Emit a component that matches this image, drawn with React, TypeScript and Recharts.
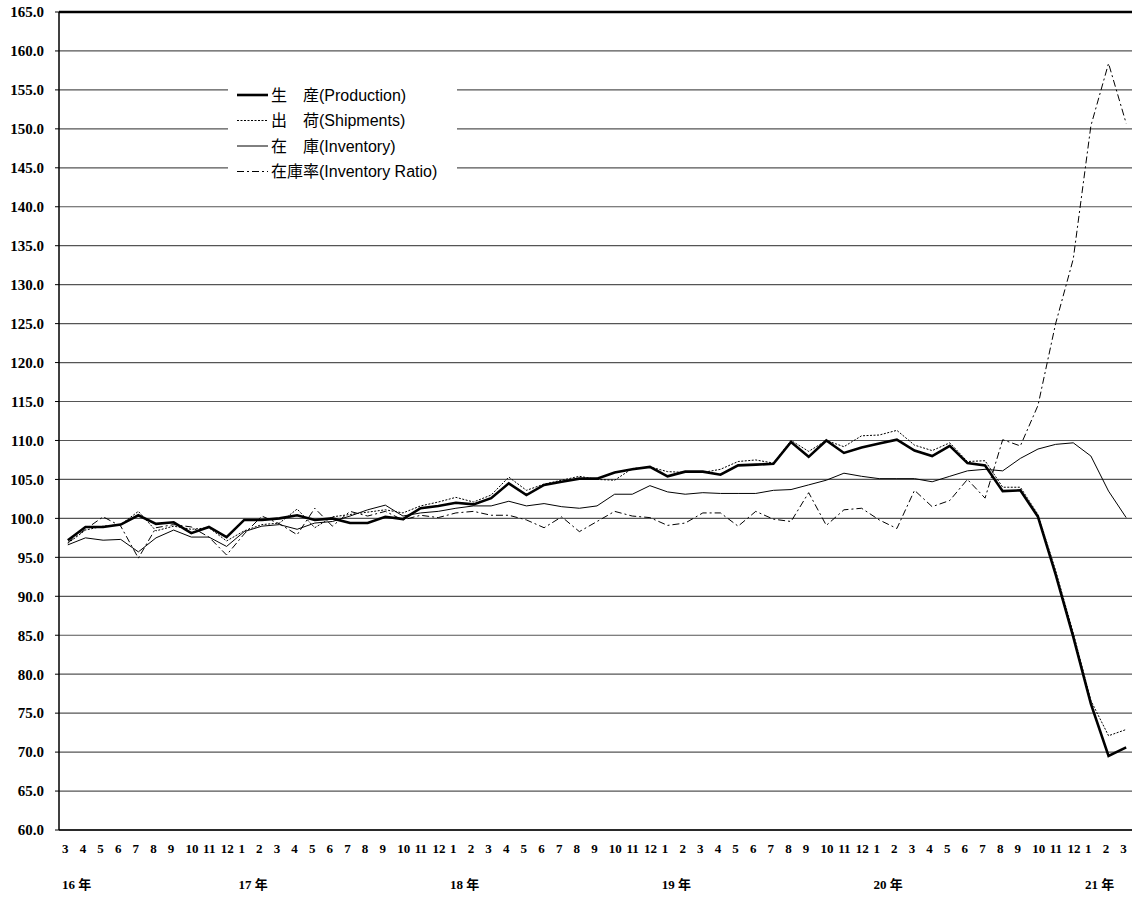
import { CartesianGrid, Legend, Line, LineChart, ReferenceLine, XAxis, YAxis } from "recharts";

// year/month of each observation
const periods = [
  "16/3", "16/4", "16/5", "16/6", "16/7", "16/8", "16/9", "16/10", "16/11", "16/12",
  "17/1", "17/2", "17/3", "17/4", "17/5", "17/6", "17/7", "17/8", "17/9", "17/10", "17/11", "17/12",
  "18/1", "18/2", "18/3", "18/4", "18/5", "18/6", "18/7", "18/8", "18/9", "18/10", "18/11", "18/12",
  "19/1", "19/2", "19/3", "19/4", "19/5", "19/6", "19/7", "19/8", "19/9", "19/10", "19/11", "19/12",
  "20/1", "20/2", "20/3", "20/4", "20/5", "20/6", "20/7", "20/8", "20/9", "20/10", "20/11", "20/12",
  "21/1", "21/2", "21/3",
];

const production = [
  97.2, 98.9, 98.9, 99.2, 100.4, 99.3, 99.5, 98.1, 98.9, 97.6,
  99.8, 99.8, 100.0, 100.4, 99.8, 100.0, 99.4, 99.4, 100.2, 99.9, 101.3, 101.6,
  102.0, 101.8, 102.6, 104.5, 103.0, 104.3, 104.7, 105.1, 105.1, 105.9, 106.3, 106.6,
  105.4, 106.0, 106.0, 105.6, 106.8, 106.9, 107.0, 109.8, 107.9, 110.0, 108.4, 109.1,
  109.6, 110.1, 108.7, 108.0, 109.3, 107.1, 106.8, 103.5, 103.6, 100.2, 92.8, 84.8,
  76.2, 69.5, 70.6,
];

const shipments = [
  96.8, 98.5, 99.0, 99.2, 100.9, 98.4, 99.0, 98.6, 98.8, 97.1,
  98.4, 99.2, 99.4, 101.2, 98.8, 100.2, 100.5, 100.8, 101.1, 100.7, 101.6, 102.1,
  102.7, 102.1, 103.0, 105.3, 103.6, 104.4, 104.9, 105.4, 105.0, 104.9, 106.4, 106.6,
  106.0, 105.9, 105.9, 106.3, 107.3, 107.5, 107.1, 110.0, 108.6, 110.0, 109.2, 110.6,
  110.7, 111.3, 109.4, 108.7, 109.7, 107.3, 107.4, 104.0, 104.0, 100.5, 93.3, 85.3,
  76.6, 72.1, 72.9,
];

const inventory = [
  96.6, 97.5, 97.2, 97.3, 95.7, 97.5, 98.5, 97.6, 97.6, 96.4,
  98.3, 99.0, 99.2, 98.6, 99.4, 99.6, 100.3, 101.1, 101.7, 100.3, 100.7, 100.9,
  101.3, 101.6, 101.6, 102.2, 101.6, 101.9, 101.5, 101.3, 101.6, 103.1, 103.1, 104.2,
  103.4, 103.1, 103.3, 103.2, 103.2, 103.2, 103.6, 103.7, 104.3, 104.9, 105.8, 105.4,
  105.1, 105.1, 105.1, 104.7, 105.4, 106.1, 106.3, 106.1, 107.7, 108.9, 109.5, 109.7,
  108.0, 103.5, 100.1,
];

const inventoryRatio = [
  96.9, 98.6, 100.2, 99.0, 94.9, 98.8, 99.2, 98.9, 97.6, 95.3,
  98.0, 100.3, 99.3, 97.9, 101.3, 99.0, 100.9, 100.3, 100.9, 99.8, 100.4, 100.1,
  100.7, 100.9, 100.4, 100.4, 99.8, 98.8, 100.2, 98.3, 99.6, 100.9, 100.3, 100.1,
  99.1, 99.4, 100.7, 100.7, 99.0, 100.9, 99.9, 99.6, 103.3, 99.1, 101.1, 101.3,
  99.8, 98.7, 103.6, 101.5, 102.3, 105.0, 102.6, 110.1, 109.3, 114.5, 125.0, 133.3,
  150.4, 158.4, 150.7,
];

const yTicks = [60, 65, 70, 75, 80, 85, 90, 95, 100, 105, 110, 115, 120, 125, 130, 135, 140, 145, 150, 155, 160, 165];

const series = [
  { key: "ratio", name: "在庫率(Inventory Ratio)", width: 1, dash: "7 3 2 3" },
  { key: "inventory", name: "在\u3000庫(Inventory)", width: 1, dash: undefined },
  { key: "shipments", name: "出\u3000荷(Shipments)", width: 1, dash: "2 1.5" },
  { key: "production", name: "生\u3000産(Production)", width: 2.6, dash: undefined },
];

const data = periods.map((p, i) => ({
  period: p,
  production: production[i],
  shipments: shipments[i],
  inventory: inventory[i],
  ratio: inventoryRatio[i],
}));

// chart is pinned to the window's top-left corner; the plot runs a little past the right edge
const CHART_W = 1140;
const CHART_H = 898;
const MARGIN = { top: 12, right: 5, bottom: 0, left: 0 };
const Y_AXIS_W = 59;
const PLOT_BOTTOM = 830;
const BAND = (CHART_W - MARGIN.left - MARGIN.right - Y_AXIS_W) / periods.length;

const serif = "'Liberation Serif', 'Times New Roman', 'Noto Sans CJK JP', serif";
const sans = "'Liberation Sans', Arial, 'Noto Sans CJK JP', sans-serif";

function MonthTick(props: any) {
  const { x, y, payload, index } = props;
  const [yy, mm] = String(payload.value).split("/");
  const left = x - BAND / 2 + 3;
  return (
    <g>
      <text x={left} y={y + 23} fontFamily={serif} fontWeight="bold" fontSize={13} fill="#000">
        {mm}
      </text>
      {(mm === "1" || index === 0) && (
        <text x={left} y={y + 59} fontFamily={serif} fontWeight="bold" fontSize={13} fill="#000">
          {yy} 年
        </text>
      )}
    </g>
  );
}

function ChartLegend() {
  const legendOrder = [...series].reverse();
  return (
    <div style={{ background: "#fff", width: 229, height: 103 }}>
      <svg width={229} height={103}>
        {legendOrder.map((s, i) => {
          const cy = 15 + i * 25.5;
          return (
            <g key={s.key}>
              <line x1={9} x2={40} y1={cy} y2={cy} stroke="#000" strokeWidth={s.width} strokeDasharray={s.dash} />
              <text x={43} y={cy} dy="0.35em" fontFamily={sans} fontSize={16} fill="#000">
                {s.name}
              </text>
            </g>
          );
        })}
      </svg>
    </div>
  );
}

export default function App() {
  return (
    <div style={{ position: "fixed", left: 0, top: 0, width: 1132, height: 898, overflow: "hidden", background: "#fff" }}>
      <LineChart width={CHART_W} height={CHART_H} data={data} margin={MARGIN}>
        <CartesianGrid vertical={false} stroke="#555" strokeWidth={1.2} />
        <XAxis
          dataKey="period"
          interval={0}
          height={CHART_H - PLOT_BOTTOM}
          padding={{ left: BAND / 2, right: BAND / 2 }}
          tickLine={false}
          tickSize={0}
          tickMargin={0}
          axisLine={{ stroke: "#000", strokeWidth: 1.5 }}
          tick={<MonthTick />}
        />
        <YAxis
          width={Y_AXIS_W}
          domain={[60, 165]}
          ticks={yTicks}
          interval={0}
          allowDataOverflow
          tickFormatter={(v: number) => v.toFixed(1)}
          tickSize={4}
          tickMargin={11}
          tickLine={{ stroke: "#000" }}
          axisLine={{ stroke: "#000", strokeWidth: 1.5 }}
          tick={{ fontFamily: serif, fontWeight: "bold", fontSize: 15, fill: "#000" }}
        />
        <ReferenceLine y={165} stroke="#000" strokeWidth={2.5} />
        <Legend
          layout="vertical"
          align="center"
          verticalAlign="middle"
          content={<ChartLegend />}
          wrapperStyle={{ left: 228, top: 80, width: 229, height: 103 }}
        />
        {series.map((s) => (
          <Line
            key={s.key}
            type="linear"
            dataKey={s.key}
            name={s.name}
            stroke="#000"
            strokeWidth={s.width}
            strokeDasharray={s.dash}
            dot={false}
            activeDot={false}
            isAnimationActive={false}
          />
        ))}
      </LineChart>
    </div>
  );
}
